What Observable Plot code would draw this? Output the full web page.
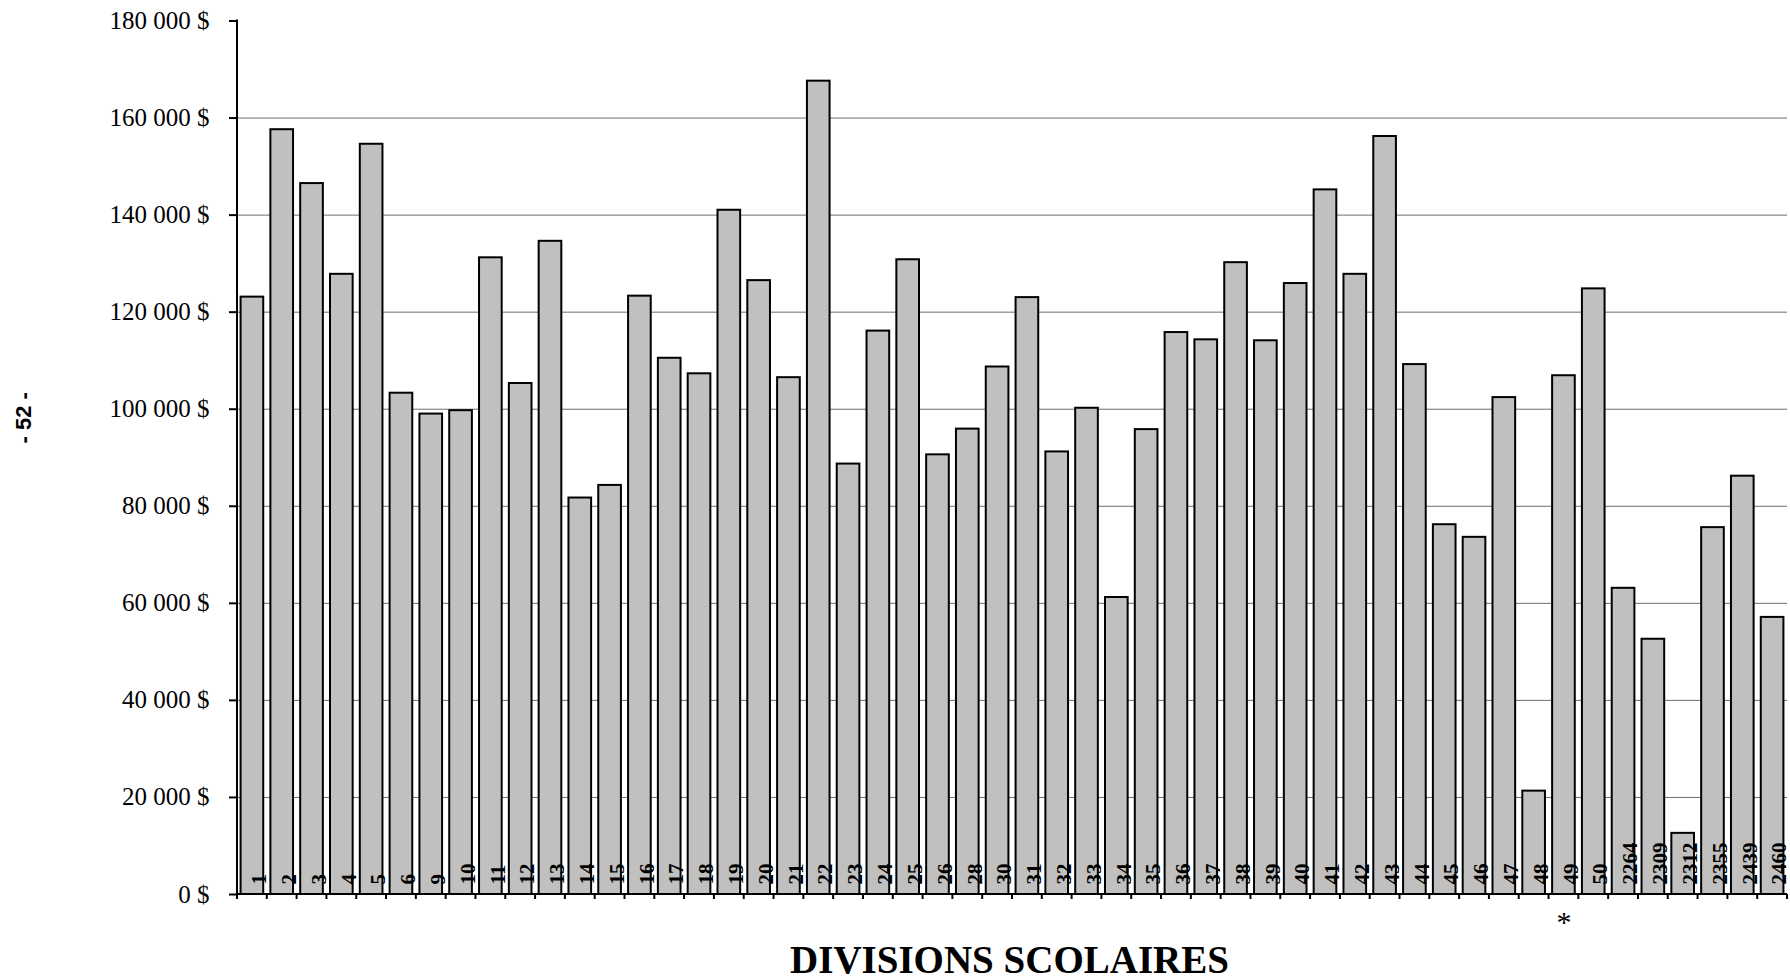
<!DOCTYPE html>
<html>
<head>
<meta charset="utf-8">
<script src="https://cdn.jsdelivr.net/npm/d3@7"></script>
<script src="https://cdn.jsdelivr.net/npm/@observablehq/plot@0.6"></script>
<style>
  html, body { margin: 0; padding: 0; background: #fff; }
</style>
</head>
<body>
<div id="chart"></div>
<script>
// ---- data ----
const divisions = ["1","2","3","4","5","6","9","10","11","12","13","14","15","16","17","18","19","20","21","22","23","24","25","26","28","30","31","32","33","34","35","36","37","38","39","40","41","42","43","44","45","46","47","48","49","50","2264","2309","2312","2355","2439","2460"];
const amounts = [123100,157600,146500,127800,154600,103300,99000,99700,131200,105300,134600,81700,84300,123300,110500,107300,141000,126500,106500,167600,88700,116100,130800,90600,95900,108700,123000,91200,100200,61200,95800,115800,114300,130200,114100,125900,145200,127800,156200,109200,76200,73600,102400,21300,106900,124800,63100,52600,12600,75600,86200,57100];
const yTicks = [0,20000,40000,60000,80000,100000,120000,140000,160000,180000];
const xTitle = "DIVISIONS SCOLAIRES";
const pageNumber = "- 52 -";
const notes = [{division: "49", mark: "*"}];

const data = divisions.map((d, i) => ({division: d, amount: amounts[i]}));
const fmt = v => d3.format(",")(v).replace(/,/g, " ") + " $";
const serif = "'Liberation Serif', 'Times New Roman', serif";

// axis lines + band-boundary ticks drawn from the library's scales
function axisLines(index, scales, values, dimensions) {
  const x = scales.x, y = scales.y;
  const {marginLeft, marginRight, width} = dimensions;
  const right = width - marginRight;
  const y0 = y(0), yTop = y(d3.max(yTicks));
  const step = typeof x.step === "function" ? x.step() : x(divisions[1]) - x(divisions[0]);
  const bw = typeof x.bandwidth === "function" ? x.bandwidth() : step * 0.76;
  const gap = (step - bw) / 2;
  const g = d3.create("svg:g").attr("stroke", "black").attr("stroke-width", 2).attr("fill", "none");
  g.append("line").attr("x1", marginLeft).attr("x2", marginLeft).attr("y1", yTop - 1).attr("y2", y0 + 1);
  g.append("line").attr("x1", marginLeft).attr("x2", right).attr("y1", y0).attr("y2", y0);
  const edges = divisions.map(d => x(d) - gap);
  edges.push(x(divisions[divisions.length - 1]) + bw + gap);
  for (const e of edges) {
    g.append("line").attr("x1", e).attr("x2", e).attr("y1", y0).attr("y2", y0 + 5);
  }
  return g.node();
}

const chart = Plot.plot({
  width: 1790,
  height: 979,
  marginLeft: 237,
  marginRight: 3,
  marginTop: 20.5,
  marginBottom: 85,
  style: {fontFamily: serif, fontSize: "25px", background: "white", color: "black", overflow: "visible"},
  x: {type: "band", domain: divisions, paddingInner: 0.24, paddingOuter: 0.12, round: false, axis: null},
  y: {domain: [0, 180000], axis: null},
  marks: [
    Plot.ruleY(yTicks.filter(v => v > 0 && v < d3.max(yTicks)), {stroke: "#6e6e6e", strokeWidth: 1}),
    Plot.axisY({ticks: yTicks, tickSize: 8, tickPadding: 20, tickFormat: fmt, label: null, strokeWidth: 2, fontSize: 25}),
    Plot.barY(data, {x: "division", y: "amount", fill: "#c0c0c0", stroke: "black", strokeWidth: 2}),
    Plot.text(data, {x: "division", y: () => 0, text: "division", rotate: -90, textAnchor: "start", lineAnchor: "middle", dx: 7, dy: -10, fontSize: 21, fontWeight: "bold", fontFamily: serif, fill: "black"}),
    axisLines,
    Plot.text(notes, {x: "division", y: () => 0, text: "mark", dy: 28, fontSize: 30, fontFamily: serif, fill: "black"}),
    Plot.text([xTitle], {frameAnchor: "bottom", lineAnchor: "bottom", dy: 78, dx: -3, fontSize: 39, fontWeight: "bold", fontFamily: serif, fill: "black"}),
    Plot.text([pageNumber], {frameAnchor: "left", textAnchor: "middle", lineAnchor: "middle", rotate: -90, dx: -214, dy: -40, fontSize: 22, fontWeight: "bold", fontFamily: "'Liberation Sans', Arial, sans-serif", fill: "black"})
  ]
});
document.getElementById("chart").appendChild(chart);
</script>
</body>
</html>
